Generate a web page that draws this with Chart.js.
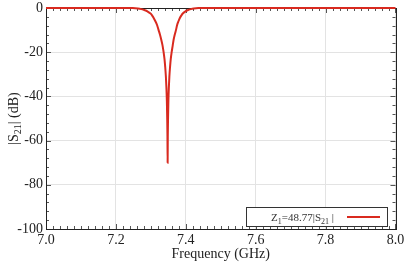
<!DOCTYPE html>
<html>
<head>
<meta charset="utf-8">
<script src="https://cdn.jsdelivr.net/npm/chart.js@4"></script>
<style>
html,body{margin:0;padding:0;background:#fff;}
#wrap{width:404px;height:263px;position:relative;}
</style>
</head>
<body>
<div id="wrap"><canvas id="c" width="404" height="263"></canvas></div>
<script>
// Data
const freqGHz = [7.0, 7.1, 7.2, 7.248, 7.263, 7.273, 7.283, 7.290, 7.298, 7.303, 7.308, 7.313, 7.318, 7.322, 7.326, 7.330, 7.3335, 7.3365, 7.339, 7.341, 7.343, 7.3445, 7.3458, 7.3468, 7.3475, 7.348,
                 7.3485, 7.3492, 7.3502, 7.3515, 7.353, 7.355, 7.357, 7.3595, 7.3625, 7.365, 7.3685, 7.372, 7.375, 7.379, 7.383, 7.388, 7.392, 7.399, 7.405, 7.414, 7.423, 7.436, 7.5, 7.6, 7.7, 7.8, 7.9, 8.0];
const s21dB = [0, 0, 0, -0.05, -0.2, -0.5, -1.0, -1.5, -2.4, -3.2, -4.5, -6.0, -7.8, -9.9, -12.0, -14.5, -17, -20, -23, -26.5, -31, -36, -42, -50, -58, -70,
               -58, -50, -42, -36, -31, -26.5, -23, -20, -17, -14.5, -12.0, -9.9, -7.8, -6.0, -4.5, -3.2, -2.4, -1.5, -1.0, -0.5, -0.2, -0.05, 0, 0, 0, 0, 0, 0];
const seriesLabel = ['Z', '1', '=48.77|S', '21', ' |'];
const xTickValues = [7.0, 7.2, 7.4, 7.6, 7.8, 8.0];
const yTickValues = [0, -20, -40, -60, -80, -100];
const lineColor = '#d92a1f';

const points = freqGHz.map((f, i) => ({x: f, y: s21dB[i]}));
const serif = "'Liberation Serif', 'Times New Roman', serif";

const framePlugin = {
  id: 'frame',
  beforeDatasetsDraw(chart) {
    const {ctx, chartArea: a, scales: {x, y}} = chart;
    ctx.save();
    ctx.strokeStyle = '#555';
    ctx.lineWidth = 1;
    ctx.beginPath();
    for (let v = 7.0; v <= 8.0001; v += 0.02) {
      const px = Math.round(x.getPixelForValue(v)) + 0.5;
      const major = Math.abs(v * 5 - Math.round(v * 5)) < 1e-6;
      const len = major ? 5 : 3;
      ctx.moveTo(px, a.bottom); ctx.lineTo(px, a.bottom - len);
      ctx.moveTo(px, a.top); ctx.lineTo(px, a.top + len);
    }
    for (let v = -100; v <= 0.001; v += 4) {
      const py = Math.round(y.getPixelForValue(v)) + 0.5;
      const major = v % 20 === 0;
      const len = major ? 5 : 3;
      ctx.moveTo(a.left, py); ctx.lineTo(a.left + len, py);
      ctx.moveTo(a.right, py); ctx.lineTo(a.right - len, py);
    }
    ctx.stroke();
    ctx.strokeStyle = '#222';
    ctx.strokeRect(Math.round(a.left) + 0.5, Math.round(a.top) + 0.5,
                   Math.round(a.right - a.left), Math.round(a.bottom - a.top));
    ctx.restore();
  },
  afterDraw(chart) {
    const {ctx, chartArea: a} = chart;
    ctx.save();
    ctx.translate(13, (a.top + a.bottom) / 2);
    ctx.rotate(-Math.PI / 2);
    ctx.fillStyle = '#222';
    ctx.textBaseline = 'alphabetic';
    const parts = [['|S', 14, 0], ['21', 10, 3], ['| (dB)', 14, 0]];
    let total = 0;
    parts.forEach(p => { ctx.font = p[1] + 'px ' + serif; total += ctx.measureText(p[0]).width; });
    let cx = -total / 2;
    parts.forEach(p => {
      ctx.font = p[1] + 'px ' + serif;
      ctx.fillText(p[0], cx, 5 + p[2]);
      cx += ctx.measureText(p[0]).width;
    });
    ctx.restore();

    ctx.save();
    const bx = Math.round(a.right - 150), by = Math.round(a.bottom - 22), bw = 141, bh = 19;
    ctx.fillStyle = '#fff';
    ctx.fillRect(bx, by, bw, bh);
    ctx.strokeStyle = '#333';
    ctx.lineWidth = 1;
    ctx.strokeRect(bx + 0.5, by + 0.5, bw, bh);
    ctx.fillStyle = '#333';
    const sizes = [11, 8, 11, 8, 11];
    const drops = [0, 3, 0, 3, 0];
    let tx = bx + 25;
    const base = by + 13.5;
    seriesLabel.forEach((s, i) => {
      ctx.font = sizes[i] + 'px ' + serif;
      ctx.fillText(s, tx, base + drops[i]);
      tx += ctx.measureText(s).width;
    });
    ctx.strokeStyle = lineColor;
    ctx.lineWidth = 2;
    ctx.beginPath();
    ctx.moveTo(bx + 101, by + 10);
    ctx.lineTo(bx + 134, by + 10);
    ctx.stroke();
    ctx.restore();
  }
};

const chart = new Chart(document.getElementById('c'), {
  type: 'line',
  data: {
    datasets: [{
      label: seriesLabel.join(''),
      data: points,
      borderColor: lineColor,
      borderWidth: 2,
      pointRadius: 0,
      cubicInterpolationMode: 'monotone',
      fill: false,
      clip: 3
    }]
  },
  options: {
    responsive: false,
    animation: false,
    devicePixelRatio: 1,
    layout: {padding: {left: 0, right: 8.5, top: 8, bottom: 0}},
    plugins: {legend: {display: false}, tooltip: {enabled: false}},
    scales: {
      x: {
        type: 'linear', min: 7.0, max: 8.0,
        afterBuildTicks: s => { s.ticks = xTickValues.map(v => ({value: v})); },
        afterFit: s => { s.height = 34; s.paddingLeft = 0; s.paddingRight = 0; },
        grid: {color: '#e3e3e3', drawTicks: false, lineWidth: 1},
        border: {display: false},
        ticks: {
          padding: 3, color: '#222', maxRotation: 0,
          font: {family: serif, size: 14},
          callback: v => Number(v).toFixed(1)
        },
        title: {display: true, text: 'Frequency (GHz)', color: '#222',
                font: {family: serif, size: 14}, padding: {top: -2, bottom: 0}}
      },
      y: {
        type: 'linear', min: -100, max: 0,
        afterBuildTicks: s => { s.ticks = yTickValues.map(v => ({value: v})); },
        afterFit: s => { s.width = 46; s.paddingTop = 0; s.paddingBottom = 0; },
        grid: {color: '#e3e3e3', drawTicks: false, lineWidth: 1},
        border: {display: false},
        ticks: {padding: 3, color: '#222', font: {family: serif, size: 14}}
      }
    }
  },
  plugins: [framePlugin]
});
</script>
</body>
</html>
